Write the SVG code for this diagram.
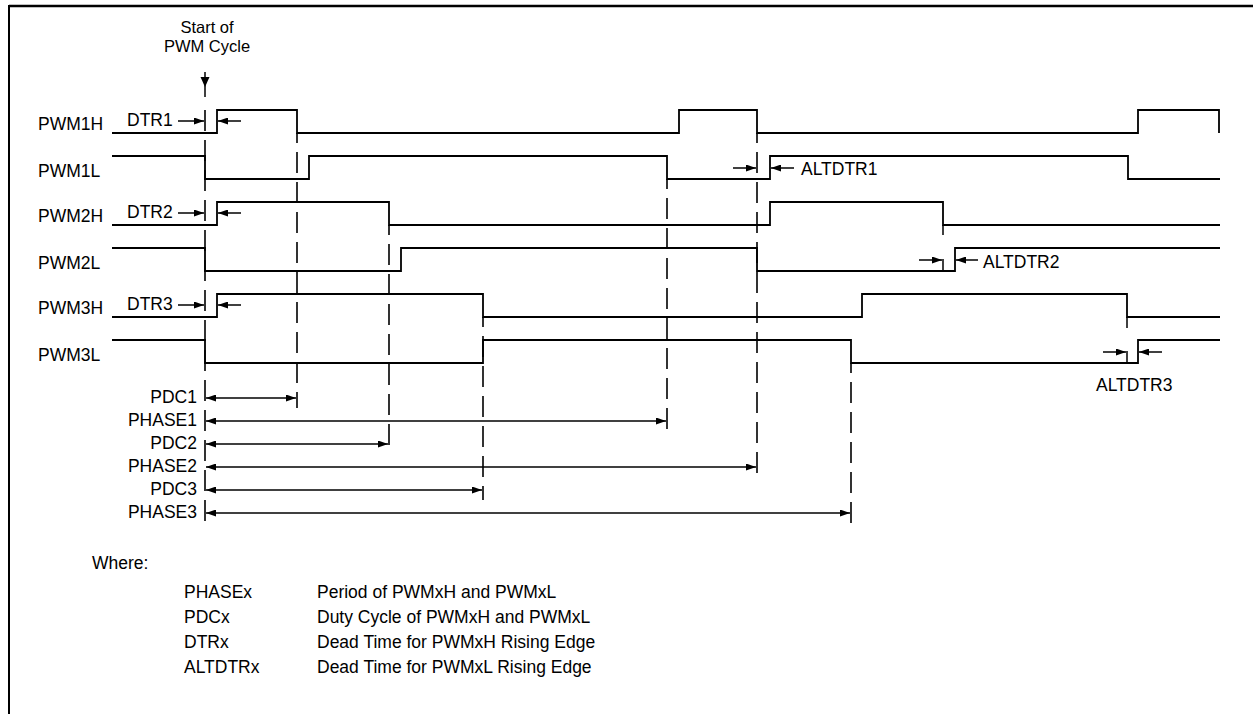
<svg xmlns="http://www.w3.org/2000/svg" width="1253" height="714" viewBox="0 0 1253 714">
<style>
text{font-family:"Liberation Sans",Arial,sans-serif;font-size:17.5px;fill:#000}
.st{font-size:16.5px}
.sig{fill:none;stroke:#000;stroke-width:1.8;stroke-linejoin:miter}
.gd{fill:none;stroke:#000;stroke-width:1.6;stroke-dasharray:21 9}
.ln{fill:none;stroke:#000;stroke-width:1.5}
.dim{fill:none;stroke:#000;stroke-width:1.5;marker-start:url(#ah);marker-end:url(#ah)}
.one{fill:none;stroke:#000;stroke-width:1.5;marker-end:url(#ah)}
.r{text-anchor:end}
</style>
<defs>
<marker id="ah" viewBox="0 0 10 7" refX="10" refY="3.5" markerWidth="10" markerHeight="7" markerUnits="userSpaceOnUse" orient="auto-start-reverse">
<path d="M0,0 L10,3.5 L0,7 z" fill="#000"/>
</marker>
</defs>
<rect width="1253" height="714" fill="#fff"/>
<g id="frame">
<line x1="9" y1="6" x2="1253" y2="6" stroke="#000" stroke-width="2.4"/>
<line x1="9" y1="5" x2="9" y2="714" stroke="#000" stroke-width="2"/>
</g>
<g id="start">
<text class="st" x="207" y="33" text-anchor="middle">Start of</text>
<text class="st" x="207" y="52" text-anchor="middle">PWM Cycle</text>
<line x1="205" y1="72" x2="205" y2="97" class="ln"/>
<path d="M200.5,77 L209.5,77 L205,87 z" fill="#000"/>
</g>
<g id="guides">
<line class="gd" x1="205" y1="110" x2="205" y2="524"/>
<line class="gd" x1="297" y1="133" x2="297" y2="408" stroke-dashoffset="11"/>
<line class="gd" x1="389" y1="225" x2="389" y2="453" stroke-dashoffset="11"/>
<line class="gd" x1="483" y1="317" x2="483" y2="500" stroke-dashoffset="11"/>
<line class="gd" x1="667" y1="179" x2="667" y2="432" stroke-dashoffset="11"/>
<line class="gd" x1="757" y1="133" x2="757" y2="478" stroke-dashoffset="11"/>
<line class="gd" x1="851" y1="363" x2="851" y2="524" stroke-dashoffset="11"/>
<line class="ln" x1="943" y1="225" x2="943" y2="235"/>
<line class="ln" x1="943" y1="259" x2="943" y2="271"/>
<line class="ln" x1="1127" y1="317" x2="1127" y2="328"/>
<line class="ln" x1="1127" y1="351" x2="1127" y2="363"/>
</g>
<g id="PWM1H">
<text x="38" y="130">PWM1H</text>
<path class="sig" d="M112,133 H217 V110 H297 V133 H679 V110 H757 V133 H1138 V110 H1219 V133"/>
</g>
<g id="PWM1L">
<text x="38" y="177">PWM1L</text>
<path class="sig" d="M112,156 H205 V179 H309 V156 H667 V179 H770 V156 H1128 V179 H1220"/>
</g>
<g id="PWM2H">
<text x="38" y="222">PWM2H</text>
<path class="sig" d="M112,225 H217 V202 H389 V225 H770 V202 H943 V225 H1220"/>
</g>
<g id="PWM2L">
<text x="38" y="269">PWM2L</text>
<path class="sig" d="M112,248 H205 V271 H401 V248 H757 V271 H955 V248 H1220"/>
</g>
<g id="PWM3H">
<text x="38" y="314">PWM3H</text>
<path class="sig" d="M112,317 H217 V294 H483 V317 H862 V294 H1127 V317 H1220"/>
</g>
<g id="PWM3L">
<text x="38" y="361">PWM3L</text>
<path class="sig" d="M112,340 H205 V363 H483 V340 H851 V363 H1138 V340 H1220"/>
</g>
<g id="connectors">
<text x="127" y="126">DTR1</text>
<line class="one" x1="178" y1="121" x2="204" y2="121"/>
<line class="one" x1="241" y1="121" x2="218" y2="121"/>
<text x="127" y="218">DTR2</text>
<line class="one" x1="178" y1="213" x2="204" y2="213"/>
<line class="one" x1="241" y1="213" x2="218" y2="213"/>
<text x="127" y="310">DTR3</text>
<line class="one" x1="178" y1="305" x2="204" y2="305"/>
<line class="one" x1="241" y1="305" x2="218" y2="305"/>
<line class="one" x1="733" y1="168" x2="756" y2="168"/>
<line class="one" x1="794" y1="168" x2="771" y2="168"/>
<text x="801" y="175">ALTDTR1</text>
<line class="one" x1="919" y1="260" x2="942" y2="260"/>
<line class="one" x1="978" y1="260" x2="956" y2="260"/>
<text x="983" y="268">ALTDTR2</text>
<line class="one" x1="1103" y1="352" x2="1126" y2="352"/>
<line class="one" x1="1162" y1="352" x2="1139" y2="352"/>
<text x="1096" y="391">ALTDTR3</text>
<text class="r" x="197" y="403">PDC1</text>
<line class="dim" x1="206" y1="398" x2="296" y2="398"/>
<text class="r" x="197" y="426">PHASE1</text>
<line class="dim" x1="206" y1="421" x2="666" y2="421"/>
<text class="r" x="197" y="449">PDC2</text>
<line class="dim" x1="206" y1="444" x2="388" y2="444"/>
<text class="r" x="197" y="472">PHASE2</text>
<line class="dim" x1="206" y1="467" x2="756" y2="467"/>
<text class="r" x="197" y="495">PDC3</text>
<line class="dim" x1="206" y1="490" x2="482" y2="490"/>
<text class="r" x="197" y="518">PHASE3</text>
<line class="dim" x1="206" y1="513" x2="850" y2="513"/>
</g>
<g id="legend">
<text x="92" y="569">Where:</text>
<text x="184" y="598">PHASEx</text>
<text x="317" y="598">Period of PWMxH and PWMxL</text>
<text x="184" y="623">PDCx</text>
<text x="317" y="623">Duty Cycle of PWMxH and PWMxL</text>
<text x="184" y="648">DTRx</text>
<text x="317" y="648">Dead Time for PWMxH Rising Edge</text>
<text x="184" y="673">ALTDTRx</text>
<text x="317" y="673">Dead Time for PWMxL Rising Edge</text>
</g>
</svg>
